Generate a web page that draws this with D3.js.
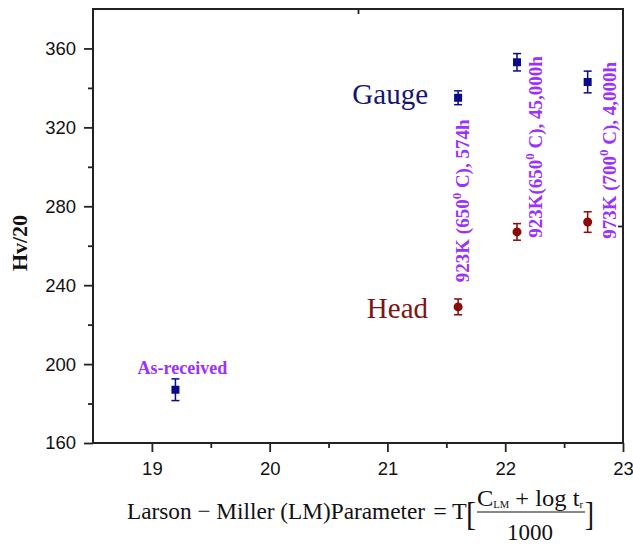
<!DOCTYPE html>
<html>
<head>
<meta charset="utf-8">
<script src="https://cdn.jsdelivr.net/npm/d3@7"></script>
<style>
  body { margin: 0; background: #fff; }
  svg { display: block; }
  .tick text { font-family: "Liberation Sans", Arial, sans-serif; font-size: 18.5px; fill: #111; }
</style>
</head>
<body>
<div id="chart"></div>
<script>
var width = 633,
  height = 546;

// data
var lmValues = [21.6, 22.1, 22.7];
var gaugeHv = [335, 353, 343];
var gaugeErr = [3.5, 4.4, 5.5];
var headHv = [229, 267, 272];
var headErr = [4, 4.2, 5.2];
var asReceivedLM = [19.2];
var asReceivedHv = [187];
var asReceivedErr = [5.5];
var conditionLabels = ["923K (650", "923K(650", "973K (700"];
var conditionTails = [" C), 574h", " C), 45,000h", " C), 4,000h"];
var conditionStartHv = [241.5, 264, 263.5];
var xTicks = [19, 20, 21, 22, 23];
var xMinor = [19.5, 20.5, 21.5, 22.5];
var yTicks = [160, 200, 240, 280, 320, 360];
var yMinor = [180, 220, 260, 300, 340];

var pLeft = 93, pRight = 623, pTop = 9, pBottom = 443;

var x = d3.scaleLinear().domain([18.5, 23]).range([pLeft, pRight]);
var y = d3.scaleLinear().domain([160, 380]).range([pBottom, pTop]);

var svg = d3.select("#chart")
  .append("svg")
  .attr("width", width)
  .attr("height", height);

// axes
svg.append("g")
  .attr("transform", "translate(0," + pBottom + ")")
  .call(d3.axisBottom(x).tickValues(xTicks).tickFormat(d3.format("d")).tickSize(9).tickPadding(10));
svg.append("g")
  .attr("transform", "translate(0," + pBottom + ")")
  .call(d3.axisBottom(x).tickValues(xMinor).tickFormat("").tickSize(5));
svg.append("g")
  .attr("transform", "translate(" + pLeft + ",0)")
  .call(d3.axisLeft(y).tickValues(yTicks).tickSize(9).tickPadding(8));
svg.append("g")
  .attr("transform", "translate(" + pLeft + ",0)")
  .call(d3.axisLeft(y).tickValues(yMinor).tickFormat("").tickSize(5));
// stray ticks on the top and right edges
svg.append("g")
  .attr("transform", "translate(0," + pTop + ")")
  .call(d3.axisBottom(x).tickValues([20.75]).tickFormat("").tickSize(5));
svg.append("g")
  .attr("transform", "translate(" + pRight + ",0)")
  .call(d3.axisLeft(y).tickValues([270]).tickFormat("").tickSize(5));

svg.selectAll(".domain").remove();
svg.selectAll(".tick line").attr("stroke", "#222").attr("stroke-width", 1.8);

svg.append("rect")
  .attr("x", pLeft).attr("y", pTop)
  .attr("width", pRight - pLeft).attr("height", pBottom - pTop)
  .attr("fill", "none")
  .attr("stroke", "#222")
  .attr("stroke-width", 2);

// error bars + markers
function errorBars(lm, hv, err, color) {
  var g = svg.append("g").attr("stroke", color).attr("stroke-width", 1.5);
  lm.forEach(function (d, i) {
    var cx = x(d);
    g.append("line").attr("x1", cx).attr("x2", cx).attr("y1", y(hv[i] + err[i])).attr("y2", y(hv[i] - err[i]));
    g.append("line").attr("x1", cx - 4).attr("x2", cx + 4).attr("y1", y(hv[i] + err[i])).attr("y2", y(hv[i] + err[i]));
    g.append("line").attr("x1", cx - 4).attr("x2", cx + 4).attr("y1", y(hv[i] - err[i])).attr("y2", y(hv[i] - err[i]));
  });
}

var navy = "#0a0a8c", darkred = "#8b0a0a", purple = "#9b30ff";

errorBars(lmValues, gaugeHv, gaugeErr, navy);
errorBars(asReceivedLM, asReceivedHv, asReceivedErr, navy);
errorBars(lmValues, headHv, headErr, darkred);

svg.selectAll("rect.gauge")
  .data(lmValues.map(function (d, i) { return [d, gaugeHv[i]]; }).concat([[asReceivedLM[0], asReceivedHv[0]]]))
  .enter().append("rect")
  .attr("class", "gauge")
  .attr("x", function (d) { return x(d[0]) - 4; })
  .attr("y", function (d) { return y(d[1]) - 4; })
  .attr("width", 8).attr("height", 8)
  .attr("fill", navy);

svg.selectAll("circle.head")
  .data(lmValues.map(function (d, i) { return [d, headHv[i]]; }))
  .enter().append("circle")
  .attr("class", "head")
  .attr("cx", function (d) { return x(d[0]); })
  .attr("cy", function (d) { return y(d[1]); })
  .attr("r", 4.5)
  .attr("fill", darkred);

// annotations
var serif = "Liberation Serif, Times New Roman, serif";

svg.append("text")
  .attr("x", 428).attr("y", y(gaugeHv[0]) + 6)
  .attr("text-anchor", "end")
  .attr("font-family", serif)
  .attr("font-size", 29)
  .attr("fill", "#161670")
  .text("Gauge");

svg.append("text")
  .attr("x", 428).attr("y", y(headHv[0]) + 11)
  .attr("text-anchor", "end")
  .attr("font-family", serif)
  .attr("font-size", 29)
  .attr("fill", "#7f1414")
  .text("Head");

svg.append("text")
  .attr("x", x(asReceivedLM[0]) + 7).attr("y", y(asReceivedHv[0]) - 16)
  .attr("text-anchor", "middle")
  .attr("font-family", serif)
  .attr("font-weight", "bold")
  .attr("font-size", 18)
  .attr("fill", purple)
  .text("As-received");

var offsets = [10.5, 25, 28];
conditionLabels.forEach(function (lab, i) {
  var tx = x(lmValues[i]) + offsets[i], ty = y(conditionStartHv[i]);
  var t = svg.append("text")
    .attr("transform", "translate(" + tx + "," + ty + ") rotate(-90)")
    .attr("font-family", serif)
    .attr("font-weight", "bold")
    .attr("font-size", 19)
    .attr("fill", purple);
  t.append("tspan").text(lab);
  t.append("tspan").attr("font-size", 13).attr("dy", -8).text("0");
  t.append("tspan").attr("dy", 8).text(conditionTails[i]);
});

// y axis title
svg.append("text")
  .attr("transform", "translate(27,243) rotate(-90)")
  .attr("text-anchor", "middle")
  .attr("font-family", serif)
  .attr("font-weight", "bold")
  .attr("font-size", 22)
  .attr("fill", "#111")
  .text("Hv/20");

// x axis title with the fraction
var baseY = 519;
svg.append("text")
  .attr("x", 127).attr("y", baseY)
  .attr("font-family", serif).attr("font-size", 24)
  .attr("textLength", 298).attr("lengthAdjust", "spacingAndGlyphs")
  .attr("fill", "#111")
  .text("Larson \u2212 Miller (LM)Parameter");
svg.append("text")
  .attr("x", 440).attr("y", baseY).attr("text-anchor", "middle")
  .attr("font-family", serif).attr("font-size", 24).attr("fill", "#111")
  .text("=");
svg.append("text")
  .attr("x", 452).attr("y", baseY)
  .attr("font-family", serif).attr("font-size", 24).attr("fill", "#111")
  .text("T");
svg.append("text")
  .attr("x", 466).attr("y", baseY + 6)
  .attr("font-family", serif).attr("font-size", 34).attr("fill", "#111")
  .attr("textLength", 10).attr("lengthAdjust", "spacingAndGlyphs")
  .text("[");
var num = svg.append("text")
  .attr("x", 477).attr("y", baseY - 13)
  .attr("font-family", serif).attr("font-size", 23).attr("fill", "#111")
  .attr("textLength", 106).attr("lengthAdjust", "spacingAndGlyphs");
num.append("tspan").text("C");
num.append("tspan").attr("font-size", 10).attr("dy", 2).text("LM");
num.append("tspan").attr("dy", -2).text(" + log t");
num.append("tspan").attr("font-size", 10).attr("dy", 2).text("r");
svg.append("line")
  .attr("x1", 477).attr("x2", 585).attr("y1", baseY - 7).attr("y2", baseY - 7)
  .attr("stroke", "#111").attr("stroke-width", 1);
svg.append("text")
  .attr("x", 530).attr("y", baseY + 21).attr("text-anchor", "middle")
  .attr("font-family", serif).attr("font-size", 23).attr("fill", "#111")
  .text("1000");
svg.append("text")
  .attr("x", 585).attr("y", baseY + 6)
  .attr("font-family", serif).attr("font-size", 34).attr("fill", "#111")
  .attr("textLength", 9).attr("lengthAdjust", "spacingAndGlyphs")
  .text("]");
</script>
</body>
</html>
